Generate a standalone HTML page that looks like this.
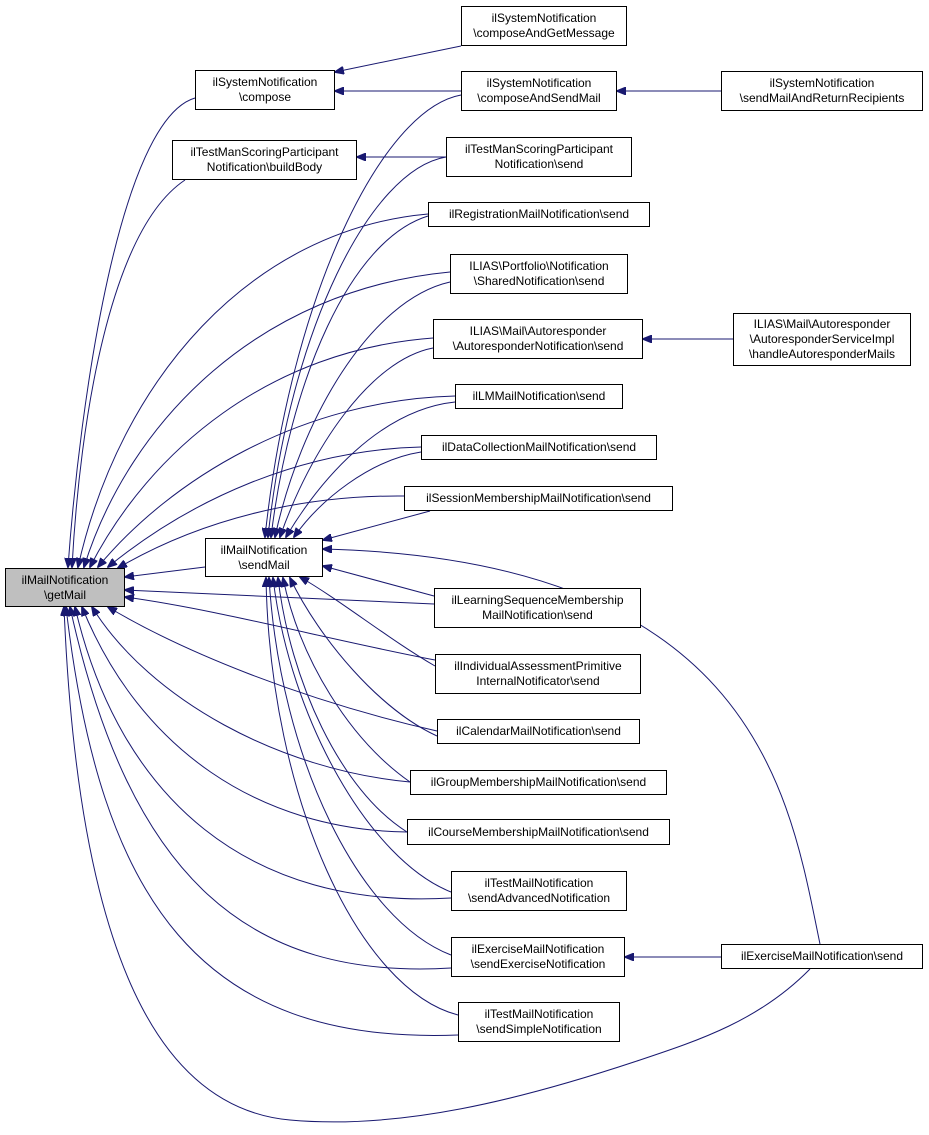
<!DOCTYPE html>
<html><head><meta charset="utf-8"><style>
body{margin:0;background:#fff;}
#c{position:relative;width:929px;height:1135px;overflow:hidden;font-family:"Liberation Sans",Arial,sans-serif;font-size:12px;}
.n{position:absolute;box-sizing:border-box;border:1px solid #000;background:#fff;display:flex;align-items:center;justify-content:center;text-align:center;line-height:15px;white-space:nowrap;}
svg{position:absolute;left:0;top:0;}
</style></head><body><div id="c">
<svg width="929" height="1135"><defs><marker id="a" markerWidth="10" markerHeight="8" refX="9" refY="4" orient="auto" markerUnits="userSpaceOnUse"><path d="M0,0 L10,4 L0,8 z" fill="#191970" stroke="#191970"/></marker></defs>
<g fill="none" stroke="#191970" stroke-width="1" marker-end="url(#a)">
<path d="M195,98 C120,120 80,400 68,567"/>
<path d="M185,180 C110,230 80,420 72,567"/>
<path d="M428,214 C250,230 120,380 78,567"/>
<path d="M450,272 C260,290 130,420 84,567"/>
<path d="M433,338 C270,350 150,450 90,567"/>
<path d="M455,396 C300,400 170,480 98,567"/>
<path d="M421,447 C300,450 190,500 108,567"/>
<path d="M404,496 C300,495 200,520 118,568"/>
<path d="M205,567 L125,577"/>
<path d="M434,604 L125,590"/>
<path d="M435,660 C330,640 220,610 125,597"/>
<path d="M437,731 C300,700 180,650 108,607"/>
<path d="M410,782 C280,770 150,700 92,607"/>
<path d="M407,832 C260,830 140,750 82,607"/>
<path d="M451,898 C250,910 120,800 75,607"/>
<path d="M451,968 C250,980 130,880 70,607"/>
<path d="M458,1035 C200,1045 100,900 66,607"/>
<path d="M810,969 C760,1020 700,1040 640,1060 C520,1100 400,1130 290,1120 C180,1110 80,1000 64,607"/>
<path d="M461,95 C380,110 290,300 265,537"/>
<path d="M446,157 C370,170 290,330 268,537"/>
<path d="M428,216 C350,240 290,380 271,537"/>
<path d="M450,282 C370,300 300,420 275,537"/>
<path d="M433,348 C370,360 310,450 280,537"/>
<path d="M455,402 C380,410 320,480 286,537"/>
<path d="M421,452 C370,460 320,500 294,537"/>
<path d="M430,511 L323,540"/>
<path d="M820,944 C790,800 760,560 323,549"/>
<path d="M434,596 L323,566"/>
<path d="M435,666 C390,640 340,600 300,577"/>
<path d="M437,736 C380,710 320,640 290,578"/>
<path d="M410,782 C350,740 300,660 283,578"/>
<path d="M407,832 C340,790 290,680 278,578"/>
<path d="M451,892 C370,860 290,720 273,578"/>
<path d="M451,955 C360,920 280,760 269,578"/>
<path d="M458,1015 C360,990 270,800 266,578"/>
<path d="M461,46 L335,72"/>
<path d="M461,91 L335,91"/>
<path d="M446,157 L357,157"/>
<path d="M721,91 L617,91"/>
<path d="M733,339 L643,339"/>
<path d="M721,957 L625,957"/>
</g></svg>
<div class="n" style="left:5px;top:568px;width:120px;height:39px;background:#bfbfbf">ilMailNotification<br>\getMail</div>
<div class="n" style="left:195px;top:70px;width:140px;height:40px">ilSystemNotification<br>\compose</div>
<div class="n" style="left:172px;top:140px;width:185px;height:40px">ilTestManScoringParticipant<br>Notification\buildBody</div>
<div class="n" style="left:205px;top:538px;width:118px;height:39px">ilMailNotification<br>\sendMail</div>
<div class="n" style="left:461px;top:6px;width:166px;height:40px">ilSystemNotification<br>\composeAndGetMessage</div>
<div class="n" style="left:461px;top:71px;width:156px;height:40px">ilSystemNotification<br>\composeAndSendMail</div>
<div class="n" style="left:721px;top:71px;width:202px;height:40px">ilSystemNotification<br>\sendMailAndReturnRecipients</div>
<div class="n" style="left:446px;top:137px;width:186px;height:40px">ilTestManScoringParticipant<br>Notification\send</div>
<div class="n" style="left:428px;top:202px;width:222px;height:25px">ilRegistrationMailNotification\send</div>
<div class="n" style="left:450px;top:254px;width:178px;height:40px">ILIAS\Portfolio\Notification<br>\SharedNotification\send</div>
<div class="n" style="left:433px;top:319px;width:210px;height:40px">ILIAS\Mail\Autoresponder<br>\AutoresponderNotification\send</div>
<div class="n" style="left:733px;top:313px;width:178px;height:53px">ILIAS\Mail\Autoresponder<br>\AutoresponderServiceImpl<br>\handleAutoresponderMails</div>
<div class="n" style="left:455px;top:384px;width:168px;height:25px">ilLMMailNotification\send</div>
<div class="n" style="left:421px;top:435px;width:236px;height:25px">ilDataCollectionMailNotification\send</div>
<div class="n" style="left:404px;top:486px;width:269px;height:25px">ilSessionMembershipMailNotification\send</div>
<div class="n" style="left:434px;top:588px;width:207px;height:40px">ilLearningSequenceMembership<br>MailNotification\send</div>
<div class="n" style="left:435px;top:654px;width:206px;height:40px">ilIndividualAssessmentPrimitive<br>InternalNotificator\send</div>
<div class="n" style="left:437px;top:719px;width:203px;height:25px">ilCalendarMailNotification\send</div>
<div class="n" style="left:410px;top:770px;width:257px;height:25px">ilGroupMembershipMailNotification\send</div>
<div class="n" style="left:407px;top:819px;width:263px;height:26px">ilCourseMembershipMailNotification\send</div>
<div class="n" style="left:451px;top:871px;width:176px;height:40px">ilTestMailNotification<br>\sendAdvancedNotification</div>
<div class="n" style="left:451px;top:937px;width:174px;height:40px">ilExerciseMailNotification<br>\sendExerciseNotification</div>
<div class="n" style="left:721px;top:944px;width:202px;height:25px">ilExerciseMailNotification\send</div>
<div class="n" style="left:458px;top:1002px;width:162px;height:40px">ilTestMailNotification<br>\sendSimpleNotification</div>
</div></body></html>
